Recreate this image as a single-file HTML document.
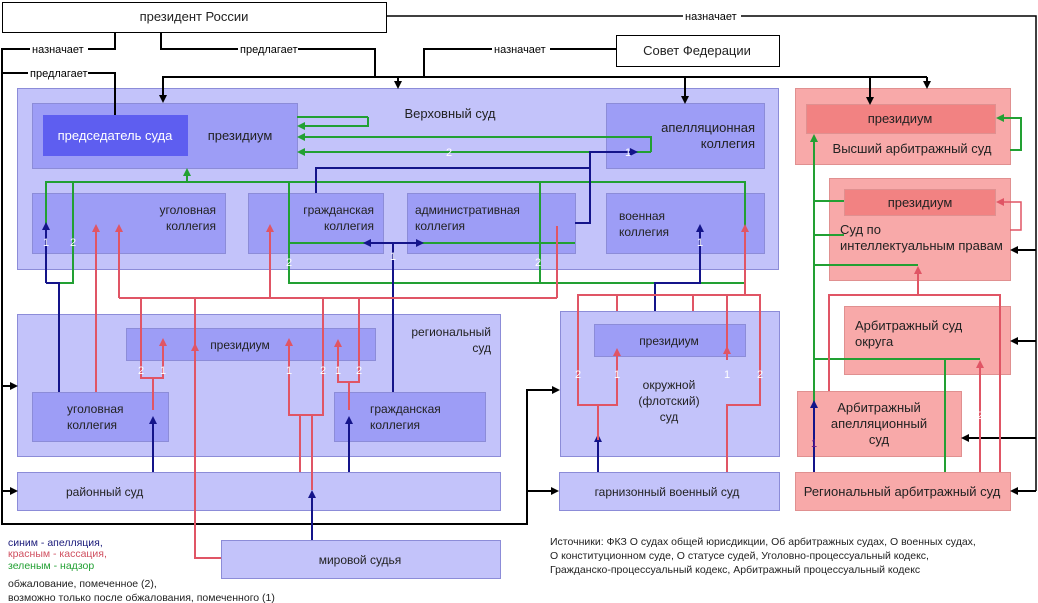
<!DOCTYPE html>
<html><head><meta charset="utf-8"><style>
html,body{margin:0;padding:0;background:#fff}
svg{display:block}
text{font-family:"Liberation Sans",sans-serif}
</style></head><body>
<svg width="1038" height="603" viewBox="0 0 1038 603" xmlns="http://www.w3.org/2000/svg">
<defs>
<marker id="ak" markerWidth="8" markerHeight="8" refX="6" refY="4" orient="auto" markerUnits="userSpaceOnUse"><path d="M0,0 L8,4 L0,8 z" fill="#000"/></marker>
<marker id="ab" markerWidth="8" markerHeight="8" refX="6" refY="4" orient="auto" markerUnits="userSpaceOnUse"><path d="M0,0 L8,4 L0,8 z" fill="#14148a"/></marker>
<marker id="ar" markerWidth="8" markerHeight="8" refX="6" refY="4" orient="auto" markerUnits="userSpaceOnUse"><path d="M0,0 L8,4 L0,8 z" fill="#e05565"/></marker>
<marker id="ag" markerWidth="8" markerHeight="8" refX="6" refY="4" orient="auto" markerUnits="userSpaceOnUse"><path d="M0,0 L8,4 L0,8 z" fill="#22a033"/></marker>
</defs>
<rect x="0" y="0" width="1038" height="603" fill="#fff"/>

<!-- boxes blue -->
<g stroke="#8c8cd8" stroke-width="1">
<rect x="17.5" y="88.5" width="761" height="181" fill="#c3c3fa"/>
<rect x="32.5" y="103.5" width="265" height="65" fill="#9d9df6"/>
<rect x="606.5" y="103.5" width="158" height="65" fill="#9d9df6"/>
<rect x="32.5" y="193.5" width="193" height="60" fill="#9d9df6"/>
<rect x="248.5" y="193.5" width="135" height="60" fill="#9d9df6"/>
<rect x="407.5" y="193.5" width="168" height="60" fill="#9d9df6"/>
<rect x="606.5" y="193.5" width="158" height="60" fill="#9d9df6"/>
<rect x="17.5" y="314.5" width="483" height="142" fill="#c3c3fa"/>
<rect x="126.5" y="328.5" width="249" height="32" fill="#9d9df6"/>
<rect x="32.5" y="392.5" width="136" height="49" fill="#9d9df6"/>
<rect x="334.5" y="392.5" width="151" height="49" fill="#9d9df6"/>
<rect x="17.5" y="472.5" width="483" height="38" fill="#c3c3fa"/>
<rect x="221.5" y="540.5" width="279" height="38" fill="#c3c3fa"/>
<rect x="560.5" y="311.5" width="219" height="145" fill="#c3c3fa"/>
<rect x="594.5" y="324.5" width="151" height="32" fill="#9d9df6"/>
<rect x="559.5" y="472.5" width="220" height="38" fill="#c3c3fa"/>
</g>
<rect x="43" y="115" width="145" height="41" fill="#5e5ef0"/>
<!-- boxes red -->
<g stroke="#e09090" stroke-width="1">
<rect x="795.5" y="88.5" width="215" height="76" fill="#f8a9a9"/>
<rect x="806.5" y="104.5" width="189" height="29" fill="#f28282"/>
<rect x="829.5" y="178.5" width="181" height="102" fill="#f8a9a9"/>
<rect x="844.5" y="189.5" width="151" height="26" fill="#f28282"/>
<rect x="844.5" y="306.5" width="166" height="68" fill="#f8a9a9"/>
<rect x="797.5" y="391.5" width="164" height="65" fill="#f8a9a9"/>
<rect x="795.5" y="472.5" width="215" height="38" fill="#f8a9a9"/>
</g>
<rect x="2.5" y="2.5" width="384" height="30" fill="#fff" stroke="#000"/>
<rect x="616.5" y="35.5" width="163" height="31" fill="#fff" stroke="#000"/>

<!-- black lines -->
<g stroke="#000" stroke-width="2" fill="none">
<polyline points="115,32 115,49 2,49 2,524 527,524 527,390 558,390" marker-end="url(#ak)"/>
<line x1="527" y1="491" x2="557" y2="491" marker-end="url(#ak)"/>
<line x1="2" y1="386" x2="16" y2="386" marker-end="url(#ak)"/>
<line x1="2" y1="491" x2="16" y2="491" marker-end="url(#ak)"/>
<polyline points="2,73 115,73 115,115"/>
<polyline points="161,32 161,49 375,49 375,77"/>
<polyline points="616,49 424,49 424,77"/>
<polyline points="163,101 163,77 927,77"/>
<line x1="163" y1="77" x2="163" y2="101" marker-end="url(#ak)"/>
<line x1="398" y1="77" x2="398" y2="87" marker-end="url(#ak)"/>
<line x1="685" y1="77" x2="685" y2="102" marker-end="url(#ak)"/>
<line x1="870" y1="77" x2="870" y2="103" marker-end="url(#ak)"/>
<line x1="927" y1="77" x2="927" y2="87" marker-end="url(#ak)"/>
<polyline points="386,16 1036,16 1036,491" stroke-width="1.5"/>
<line x1="1036" y1="250" x2="1012" y2="250" marker-end="url(#ak)"/>
<line x1="1036" y1="341" x2="1012" y2="341" marker-end="url(#ak)"/>
<line x1="1036" y1="438" x2="963" y2="438" marker-end="url(#ak)"/>
<line x1="1036" y1="491" x2="1012" y2="491" marker-end="url(#ak)"/>
</g>
<g font-size="11" fill="#000">
<rect x="30" y="43" width="58" height="12" fill="#fff"/><text x="32" y="53">назначает</text>
<rect x="28" y="67" width="60" height="12" fill="#fff"/><text x="30" y="77">предлагает</text>
<rect x="238" y="43" width="60" height="12" fill="#fff"/><text x="240" y="53">предлагает</text>
<rect x="492" y="43" width="58" height="12" fill="#fff"/><text x="494" y="53">назначает</text>
<rect x="683" y="10" width="58" height="12" fill="#fff"/><text x="685" y="20">назначает</text>
</g>

<!-- green -->
<g stroke="#22a033" stroke-width="2" fill="none">
<polyline points="46,228 46,182 745,182 745,283 289,283 289,182"/>
<line x1="187" y1="182" x2="187" y2="170" marker-end="url(#ag)"/>
<polyline points="73,182 73,283 59,283"/>
<polyline points="368,117 368,126 299,126" marker-end="url(#ag)"/>
<line x1="297" y1="117" x2="368" y2="117"/>
<polyline points="651,152 651,137 299,137" marker-end="url(#ag)"/>
<line x1="651" y1="152" x2="299" y2="152" marker-end="url(#ag)"/>
<polyline points="540,182 540,283"/>
<polyline points="289,243 575,243"/>
<line x1="814" y1="450" x2="814" y2="136" marker-end="url(#ag)"/>
<polyline points="814,201 844,201"/>
<polyline points="814,235 844,235"/>
<polyline points="814,265 918,265"/>
<polyline points="814,359 980,359"/>
<polyline points="945,359 945,472"/>
<polyline points="1010,150 1021,150 1021,118 998,118" marker-end="url(#ag)"/>
</g>
<!-- blue -->
<g stroke="#14148a" stroke-width="2" fill="none">
<polyline points="59,314 59,283"/><line x1="46" y1="283" x2="46" y2="224" marker-end="url(#ab)"/>
<polyline points="59,392 59,283 46,283"/>
<polyline points="316,193 316,168 590,168 590,152 636,152" marker-end="url(#ab)"/>
<polyline points="575,223 590,223 590,168"/>
<line x1="393" y1="243" x2="365" y2="243" marker-end="url(#ab)"/>
<line x1="393" y1="243" x2="422" y2="243" marker-end="url(#ab)"/>
<line x1="393" y1="243" x2="393" y2="392"/>
<polyline points="655,311 655,283 700,283 700,226" marker-end="url(#ab)"/>
<line x1="153" y1="472" x2="153" y2="418" marker-end="url(#ab)"/>
<line x1="349" y1="472" x2="349" y2="418" marker-end="url(#ab)"/>
<line x1="312" y1="540" x2="312" y2="492" marker-end="url(#ab)"/>
<line x1="598" y1="472" x2="598" y2="436" marker-end="url(#ab)"/>
<line x1="814" y1="472" x2="814" y2="402" marker-end="url(#ab)"/>
</g>
<!-- red -->
<g stroke="#e05565" stroke-width="2" fill="none">
<line x1="96" y1="392" x2="96" y2="226" marker-end="url(#ar)"/>
<polyline points="119,298 119,226" marker-end="url(#ar)"/>
<line x1="270" y1="298" x2="270" y2="226" marker-end="url(#ar)"/>
<line x1="557" y1="298" x2="557" y2="226"/>
<line x1="745" y1="295" x2="745" y2="226" marker-end="url(#ar)"/>
<polyline points="119,298 557,298"/>
<polyline points="141,298 141,378 163,378 163,340" marker-end="url(#ar)"/>
<line x1="153" y1="378" x2="153" y2="410"/>
<polyline points="195,298 195,558 221,558"/>
<line x1="195" y1="350" x2="195" y2="345" marker-end="url(#ar)"/>
<polyline points="289,340 289,415 323,415 323,298" />
<line x1="289" y1="360" x2="289" y2="340" marker-end="url(#ar)"/>
<line x1="300" y1="415" x2="300" y2="472"/>
<line x1="312" y1="415" x2="312" y2="490"/>
<polyline points="338,360 338,382 359,382 359,298"/>
<line x1="338" y1="360" x2="338" y2="341" marker-end="url(#ar)"/>
<line x1="349" y1="382" x2="349" y2="410"/>
<polyline points="578,311 578,295 760,295 760,405 727,405 727,472"/>
<polyline points="578,311 578,405 617,405 617,350" marker-end="url(#ar)"/>
<line x1="617" y1="295" x2="617" y2="311"/>
<line x1="598" y1="405" x2="598" y2="440"/>
<polyline points="727,295 727,350"/><line x1="727" y1="360" x2="727" y2="348" marker-end="url(#ar)"/>
<line x1="693" y1="295" x2="693" y2="311"/>
<polyline points="829,391 829,295 1000,295 1000,472"/>
<line x1="918" y1="295" x2="918" y2="268" marker-end="url(#ar)"/>
<line x1="980" y1="472" x2="980" y2="362" marker-end="url(#ar)"/>
<polyline points="1010,230 1021,230 1021,202 998,202" marker-end="url(#ar)" stroke-width="1.5"/>
</g>
<!-- small numbers -->
<g font-size="11" fill="#fff">
<text x="43" y="246">1</text><text x="70" y="246">2</text>
<text x="446" y="156">2</text><text x="625" y="156">1</text>
<text x="286" y="266">2</text><text x="390" y="260">1</text>
<text x="535" y="266">2</text><text x="697" y="246">1</text>
<text x="138" y="374">2</text><text x="160" y="374">1</text>
<text x="286" y="374">1</text><text x="320" y="374">2</text>
<text x="335" y="374">1</text><text x="356" y="374">2</text>
<text x="575" y="378">2</text><text x="614" y="378">1</text>
<text x="724" y="378">1</text><text x="757" y="378">2</text>
<text x="977" y="419">2</text>
</g>
<text x="811" y="447" font-size="11" fill="#6a1a8a">1</text>

<!-- labels -->
<g font-size="13" fill="#222">
<text x="194" y="21" text-anchor="middle">президент России</text>
<text x="697" y="55" text-anchor="middle">Совет Федерации</text>
<text x="450" y="118" text-anchor="middle">Верховный суд</text>
<text x="115" y="140" text-anchor="middle" fill="#fff">председатель суда</text>
<text x="240" y="140" text-anchor="middle">президиум</text>
<text x="755" y="132" text-anchor="end">апелляционная</text>
<text x="755" y="148" text-anchor="end">коллегия</text>
<text x="216" y="214" text-anchor="end" font-size="12">уголовная</text>
<text x="216" y="230" text-anchor="end" font-size="12">коллегия</text>
<text x="374" y="214" text-anchor="end" font-size="12">гражданская</text>
<text x="374" y="230" text-anchor="end" font-size="12">коллегия</text>
<text x="415" y="214" font-size="12">административная</text>
<text x="415" y="230" font-size="12">коллегия</text>
<text x="619" y="220" font-size="12">военная</text>
<text x="619" y="236" font-size="12">коллегия</text>
<text x="900" y="123" text-anchor="middle">президиум</text>
<text x="912" y="153" text-anchor="middle">Высший арбитражный суд</text>
<text x="920" y="207" text-anchor="middle">президиум</text>
<text x="840" y="234">Суд по</text>
<text x="840" y="250">интеллектуальным правам</text>
<text x="855" y="330">Арбитражный суд</text>
<text x="855" y="346">округа</text>
<text x="879" y="412" text-anchor="middle">Арбитражный</text>
<text x="879" y="428" text-anchor="middle">апелляционный</text>
<text x="879" y="444" text-anchor="middle">суд</text>
<text x="902" y="496" text-anchor="middle">Региональный арбитражный суд</text>
<text x="491" y="336" text-anchor="end" font-size="12">региональный</text>
<text x="491" y="352" text-anchor="end" font-size="12">суд</text>
<text x="240" y="349" text-anchor="middle" font-size="12">президиум</text>
<text x="67" y="413" font-size="12">уголовная</text>
<text x="67" y="429" font-size="12">коллегия</text>
<text x="370" y="413" font-size="12">гражданская</text>
<text x="370" y="429" font-size="12">коллегия</text>
<text x="66" y="496" font-size="12">районный суд</text>
<text x="360" y="564" text-anchor="middle" font-size="12">мировой судья</text>
<text x="669" y="345" text-anchor="middle" font-size="12">президиум</text>
<text x="669" y="389" text-anchor="middle" font-size="12">окружной</text>
<text x="669" y="405" text-anchor="middle" font-size="12">(флотский)</text>
<text x="669" y="421" text-anchor="middle" font-size="12">суд</text>
<text x="667" y="496" text-anchor="middle" font-size="12">гарнизонный военный суд</text>
</g>
<g font-size="10.5">
<text x="8" y="546" fill="#1a1a7a">синим - апелляция,</text>
<text x="8" y="557" fill="#d05060">красным - кассация,</text>
<text x="8" y="569" fill="#22a033">зеленым - надзор</text>
<text x="8" y="587" fill="#222">обжалование, помеченное (2),</text>
<text x="8" y="601" fill="#222">возможно только после обжалования, помеченного (1)</text>
<text x="550" y="545" fill="#222">Источники: ФКЗ О судах общей юрисдикции, Об арбитражных судах, О военных судах,</text>
<text x="550" y="559" fill="#222">О конституционном суде, О статусе судей, Уголовно-процессуальный кодекс,</text>
<text x="550" y="573" fill="#222">Гражданско-процессуальный кодекс, Арбитражный процессуальный кодекс</text>
</g>
</svg>
</body></html>
